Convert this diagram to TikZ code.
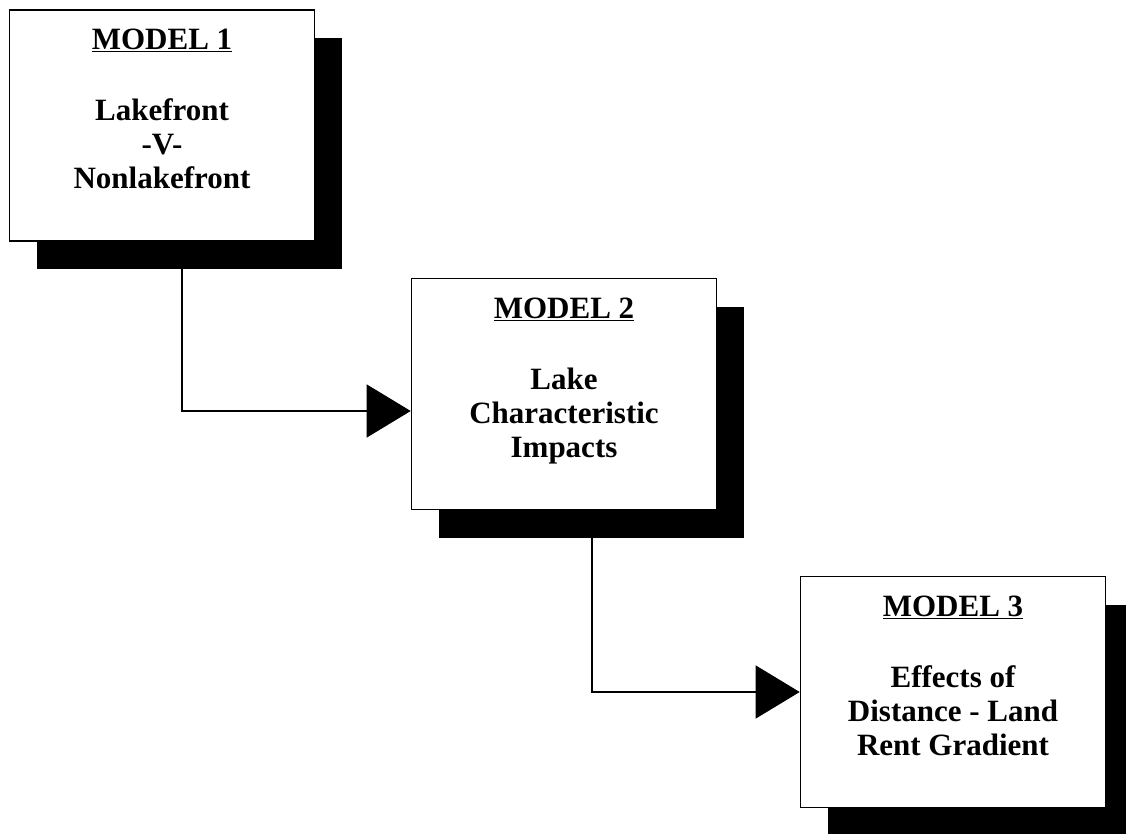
\documentclass[tikz,border=0pt]{standalone}
\usepackage{fontspec}
\setmainfont{Liberation Serif}
\usetikzlibrary{positioning, shadows, arrows.meta, backgrounds}

\tikzset{
  modelbox/.style={rectangle, draw, fill=white, line width=1.6pt, inner sep=0pt,
    minimum width=305pt, minimum height=231pt,
    drop shadow={shadow xshift=27pt, shadow yshift=-28pt, fill=black, opacity=1}},
  modeltext/.style={align=center, inner sep=0pt, font=\bfseries\fontsize{31}{34}\selectfont},
  flow/.style={line width=1.2pt, -{Triangle[length=44pt, width=53pt]}}
}

\begin{document}
\begin{tikzpicture}[x=1pt, y=-1pt]
  \useasboundingbox (0,0) rectangle (1126,834);

  % Draw the boxes.
  \node at (162,125.5) [modelbox] (m1) {};
  \node[modeltext, below=20pt of m1.north] (t1) {\underline{MODEL 1}\\[37pt]Lakefront\\-V-\\Nonlakefront};

  \node at (564,394) [modelbox] (m2) {};
  \node[modeltext, below=20pt of m2.north] (t2) {\underline{MODEL 2}\\[37pt]Lake\\Characteristic\\Impacts};

  \node at (953,692) [modelbox] (m3) {};
  \node[modeltext, below=20pt of m3.north] (t3) {\underline{MODEL 3}\\[37pt]Effects of\\Distance - Land\\Rent Gradient};

  % Connect boxes with arrows
  \begin{pgfonlayer}{background}
    \draw[flow] ([xshift=20pt]m1.south) |- ([yshift=-17pt]m2.west);
    \draw[flow] ([xshift=28pt]m2.south) |- (m3.west);
  \end{pgfonlayer}
\end{tikzpicture}
\end{document}
